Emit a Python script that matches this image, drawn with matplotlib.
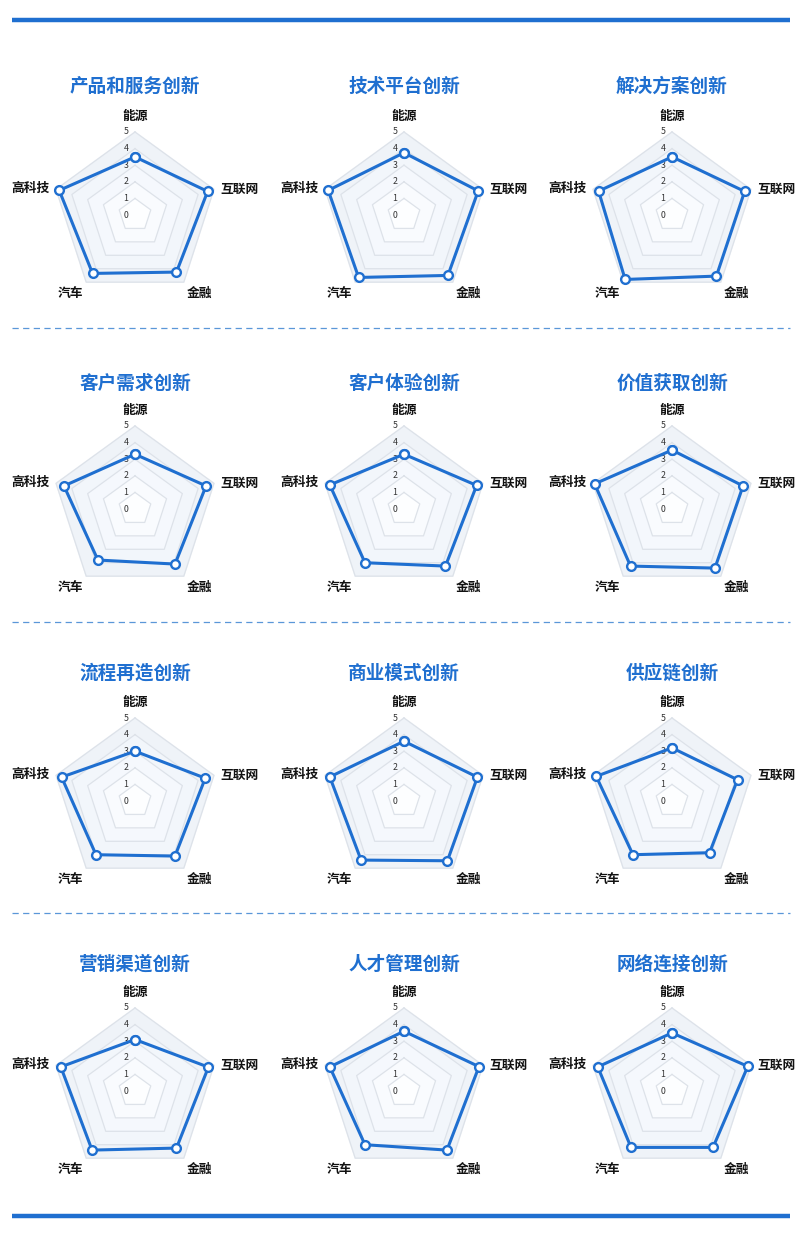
import numpy as np
import matplotlib
matplotlib.use("Agg")
import matplotlib.pyplot as plt

plt.rcParams['font.family'] = ['Noto Sans CJK SC', 'DejaVu Sans']

# chart data
cats = ['能源', '互联网', '金融', '汽车', '高科技']
titles = ['产品和服务创新', '技术平台创新', '解决方案创新',
          '客户需求创新', '客户体验创新', '价值获取创新',
          '流程再造创新', '商业模式创新', '供应链创新',
          '营销渠道创新', '人才管理创新', '网络连接创新']
scores = [[3.5, 4.6, 4.25, 4.35, 4.8],
          [3.75, 4.7, 4.5, 4.65, 4.8],
          [3.5, 4.6, 4.55, 4.8, 4.65],
          [3.3, 4.5, 4.1, 3.8, 4.5],
          [3.3, 4.6, 4.25, 4.0, 4.7],
          [3.55, 4.5, 4.4, 4.25, 4.9],
          [3.0, 4.45, 4.1, 4.0, 4.65],
          [3.6, 4.65, 4.45, 4.4, 4.7],
          [3.2, 4.15, 3.85, 4.0, 4.8],
          [3.1, 4.65, 4.25, 4.4, 4.7],
          [3.6, 4.75, 4.4, 4.0, 4.7],
          [3.5, 4.8, 4.2, 4.2, 4.7]]
levels = [0, 1, 2, 3, 4, 5]

BLUE = '#1f6fd0'
W, H = 800, 1238
col_x = [135, 404, 672]
row_y = [215, 509, 801, 1091]
title_y = [86, 383, 673, 964]
R = 83

# label placement (ha, va, dx px, dy px)
lab_pos = [('center', 'center', 0, 16),
           ('left', 'center', 6, 0),
           ('center', 'center', 16, -11),
           ('center', 'center', -16, -11),
           ('right', 'center', -6, 1)]
ring_col = ['#fdfeff', '#f9fbfe', '#f5f8fd', '#f2f6fb', '#eff3f8']


def radar(fig, cx, cy, vals):
	ax = fig.add_axes([(cx - R) / W, 1 - (cy + R) / H, 2 * R / W, 2 * R / H],
			projection='polar')
	ax.set_theta_offset(np.pi / 2)
	ax.set_theta_direction(-1)
	ax.set_ylim(0, 5)
	ax.axis('off')

	ang = np.linspace(0, 2 * np.pi, len(cats), endpoint=False)
	ang_c = np.append(ang, ang[0])

	# rings, outer first
	for i in range(5, 0, -1):
		ax.fill(ang_c, [levels[i]] * len(ang_c), color=ring_col[i - 1], zorder=1, clip_on=False)
		ax.plot(ang_c, [levels[i]] * len(ang_c), color='#dde2e9', lw=0.9, zorder=2, clip_on=False)

	# scale numbers
	for lv in levels:
		ax.annotate(str(lv), (0, lv), xytext=(-6.5, 0), textcoords='offset points',
				ha='center', va='center', fontsize=6.3, color='#333333', zorder=3)

	v = list(vals) + [vals[0]]
	ax.plot(ang_c, v, color=BLUE, lw=2.2, zorder=4, clip_on=False,
		marker='o', markersize=6.3, markerfacecolor='white',
		markeredgecolor=BLUE, markeredgewidth=1.7)

	for k in range(len(cats)):
		ha, va, dx, dy = lab_pos[k]
		ax.annotate(cats[k], (ang[k], 5), xytext=(dx * 0.72, dy * 0.72),
				textcoords='offset points', ha=ha, va=va,
				fontsize=9.2, fontweight='bold', color='#111111', zorder=5)


fig = plt.figure(figsize=(W / 100, H / 100), dpi=100)
fig.patch.set_facecolor('white')

bg = fig.add_axes([0, 0, 1, 1])
bg.set_xlim(0, W)
bg.set_ylim(H, 0)
bg.axis('off')
bg.plot([12, 790], [20, 20], color=BLUE, lw=3.2, solid_capstyle='butt')
bg.plot([12, 790], [1216, 1216], color=BLUE, lw=3.2, solid_capstyle='butt')
for yy in [328, 622, 913]:
	bg.plot([12, 790], [yy, yy], color='#5a97d8', lw=0.9, dashes=(5, 3.5))

for n in range(len(titles)):
	r = n // 3
	c = n % 3
	radar(fig, col_x[c], row_y[r], scores[n])
	fig.text(col_x[c] / W, 1 - title_y[r] / H, titles[n], ha='center', va='center',
		fontsize=13.4, fontweight='bold', color=BLUE)

fig.savefig('out.png', dpi=100, facecolor='white')
